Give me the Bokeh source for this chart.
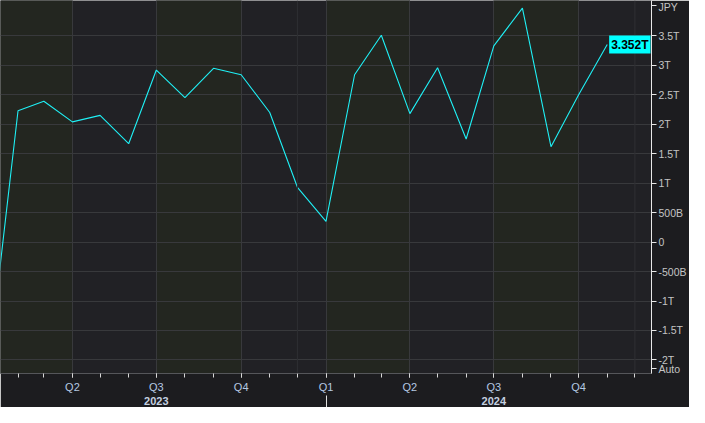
import pandas as pd
from bokeh.plotting import figure
from bokeh.models import (LinearAxis, FixedTicker, Grid, Range1d, Label, Span,
                          ColumnDataSource)
from bokeh.embed import file_html
from bokeh.resources import INLINE

# ---------------- data ----------------
months = ["2023-01", "2023-02", "2023-03", "2023-04", "2023-05", "2023-06",
          "2023-07", "2023-08", "2023-09", "2023-10", "2023-11", "2023-12",
          "2024-01", "2024-02", "2024-03", "2024-04", "2024-05", "2024-06",
          "2024-07", "2024-08", "2024-09", "2024-10", "2024-11"]
values_trn = [-1.98, 2.23, 2.39, 2.04, 2.15, 1.67, 2.92, 2.45, 2.95, 2.84, 2.20, 0.93,
              0.35, 2.84, 3.51, 2.18, 2.96, 1.75, 3.33, 3.97, 1.62, 2.50, 3.352]

quarter_starts = ["2023-01", "2023-04", "2023-07", "2023-10",
                  "2024-01", "2024-04", "2024-07", "2024-10", "2025-01"]
quarter_labels = ["Q1", "Q2", "Q3", "Q4", "Q1", "Q2", "Q3", "Q4", "Q1"]
year_label_pos = ["2023-07", "2024-07"]
year_labels = ["2023", "2024"]
year_separators = ["2024-01"]
extra_vlines = ["2023-12", "2024-12"]

y_ticks = [-2, -1.5, -1, -0.5, 0, 0.5, 1, 1.5, 2, 2.5, 3, 3.5]
y_tick_labels = ["-2T", "-1.5T", "-1T", "-500B", "0", "500B",
                 "1T", "1.5T", "2T", "2.5T", "3T", "3.5T"]
currency = "JPY"
scale_mode = "Auto"

x_start, x_end = "2023-01-13", "2024-12-19"
y_start, y_end = -2.23, 4.10

# ---------------- helpers ----------------
def ms(s):
    return float(pd.Timestamp(s).value // 10**6)

dates = pd.to_datetime(months)
src = ColumnDataSource(dict(x=dates, y=values_trn))

BG_OUT = "#1c1c1f"
BG_DARK = "#212125"
BG_GREEN = "#232620"
GRID = "#38393c"
FONT = "Liberation Sans"

CAN_UNCLIP = "clip" in Label.properties()

p = figure(width=689, height=407, output_backend="svg", toolbar_location=None,
           x_axis_type="datetime", x_axis_location=None, y_axis_location="right",
           x_range=Range1d(ms(x_start), ms(x_end)),
           y_range=Range1d(y_start, y_end),
           min_border_left=0, min_border_top=0, min_border_right=30, min_border_bottom=10,
           background_fill_color=BG_DARK, border_fill_color=BG_OUT)
p.outline_line_color = None
p.grid.visible = False

# alternating quarter bands (Q1 / Q3 greenish)
q_ms = [ms(q) for q in quarter_starts]
band_left, band_right = [], []
for i in range(len(quarter_starts) - 1):
    if quarter_labels[i] in ("Q1", "Q3"):
        band_left.append(q_ms[i])
        band_right.append(q_ms[i + 1])
p.quad(left=band_left, right=band_right, bottom=y_start - 1, top=y_end + 1,
       fill_color=BG_GREEN, line_color=None, level="underlay")

# grids
p.add_layout(Grid(dimension=1, ticker=FixedTicker(ticks=y_ticks),
                  grid_line_color=GRID, grid_line_width=1))
p.add_layout(Grid(dimension=0, ticker=FixedTicker(ticks=q_ms),
                  grid_line_color=GRID, grid_line_width=1))
for d in extra_vlines:
    p.add_layout(Span(location=ms(d), dimension="height",
                      line_color="#2e2f33", line_width=1))

# data line
p.line("x", "y", source=src, line_color="#1ff0f5", line_width=1.1)

# right y axis
ya = p.yaxis[0]
ticks_all = list(y_ticks)
labels_all = list(y_tick_labels)
if not CAN_UNCLIP:
    ticks_all = [-2.15] + ticks_all + [4.02]
    labels_all = [scale_mode] + labels_all + [currency]
ya.ticker = FixedTicker(ticks=ticks_all)
ya.major_label_overrides = {float(t): l for t, l in zip(ticks_all, labels_all)}
ya.axis_line_color = "#e8e8e8"
ya.major_tick_line_color = "#e8e8e8"
ya.major_tick_out = 5
ya.major_tick_in = 0
ya.minor_tick_line_color = None
ya.major_label_text_color = "#c4c4c4"
ya.major_label_text_font = FONT
ya.major_label_text_font_size = "10.5px"
ya.major_label_standoff = 2

# bottom axes: quarters + month ticks, then years
m_ms = [ms(m) for m in pd.date_range("2022-12-01", "2025-02-01", freq="MS")]
xa = LinearAxis(ticker=FixedTicker(ticks=q_ms, minor_ticks=m_ms),
                major_label_overrides={t: l for t, l in zip(q_ms, quarter_labels)})
xa.axis_line_color = "#55565a"
xa.major_tick_line_color = "#d8d8d8"
xa.minor_tick_line_color = "#d8d8d8"
xa.major_tick_out = 4
xa.major_tick_in = 0
xa.minor_tick_out = 4
xa.minor_tick_in = 0
xa.major_label_standoff = 3
xa.major_label_text_color = "#b4c8e2"
xa.major_label_text_font = FONT
xa.major_label_text_font_size = "11px"
p.add_layout(xa, "below")

yr_ms = [ms(y) for y in year_label_pos]
xa2 = LinearAxis(ticker=FixedTicker(ticks=yr_ms, minor_ticks=[ms(s) for s in year_separators]),
                 major_label_overrides={t: l for t, l in zip(yr_ms, year_labels)})
xa2.axis_line_color = None
xa2.major_tick_line_color = None
xa2.major_tick_out = 0
xa2.major_tick_in = 0
xa2.minor_tick_line_color = "#e0e0e0"
xa2.minor_tick_out = 14
xa2.minor_tick_in = 0
xa2.major_label_standoff = -13
xa2.major_label_text_color = "#c4d0e0"
xa2.major_label_text_font = FONT
xa2.major_label_text_font_style = "bold"
xa2.major_label_text_font_size = "11px"
p.add_layout(xa2, "below")

# last-value marker
xe = ms(x_end)
if CAN_UNCLIP:
    p.add_layout(Label(x=xe, y=values_trn[-1], x_offset=1, text=f"{values_trn[-1]:.3f}T",
                       text_color="#000000", text_font=FONT, text_font_style="bold",
                       text_font_size="12px", text_baseline="middle", text_align="left",
                       background_fill_color="#00ffff", padding=2, clip=False))
else:
    p.add_layout(Label(x=xe, y=values_trn[-1], x_offset=-1, text=f"{values_trn[-1]:.3f}T",
                       text_color="#000000", text_font=FONT, text_font_style="bold",
                       text_font_size="12px", text_baseline="middle", text_align="right",
                       background_fill_color="#00ffff", padding=2))

open("out.html", "w").write(file_html(p, INLINE))
